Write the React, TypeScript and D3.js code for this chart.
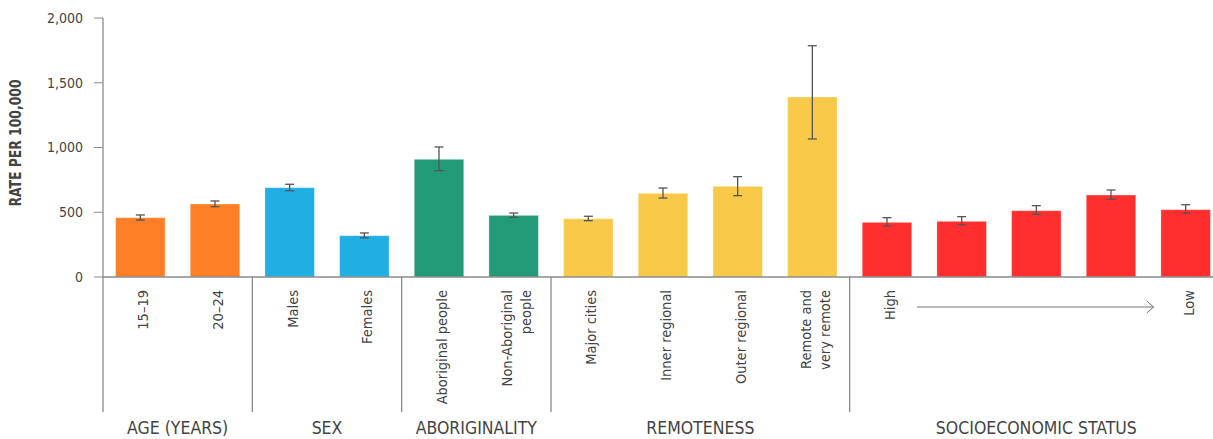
import React from "react";
import * as d3 from "d3";

// Rates per 100,000 by population group
const categories = [
  "15–19", "20–24",
  "Males", "Females",
  "Aboriginal people", "Non-Aboriginal people",
  "Major cities", "Inner regional", "Outer regional", "Remote and very remote",
  "SES 1", "SES 2", "SES 3", "SES 4", "SES 5",
];
// Tick label lines under each bar (empty = no label)
const categoryLabels: string[][] = [
  ["15–19"], ["20–24"],
  ["Males"], ["Females"],
  ["Aboriginal people"], ["Non-Aboriginal", "people"],
  ["Major cities"], ["Inner regional"], ["Outer regional"], ["Remote and", "very remote"],
  ["High"], [], [], [], ["Low"],
];
const rates = [458, 564, 690, 319, 909, 476, 450, 646, 700, 1390, 422, 430, 512, 633, 520];
const lowerCI = [440, 543, 666, 303, 821, 461, 435, 610, 628, 1066, 394, 404, 484, 600, 492];
const upperCI = [479, 587, 716, 340, 1004, 494, 469, 687, 775, 1786, 458, 466, 551, 672, 558];

const groupNames = ["AGE (YEARS)", "SEX", "ABORIGINALITY", "REMOTENESS", "SOCIOECONOMIC STATUS"];
const groupSizes = [2, 2, 2, 4, 5];
const groupColors = ["#FE7F26", "#21AEE3", "#229A78", "#F8C948", "#FF2F2F"];

const yTicks = [0, 500, 1000, 1500, 2000];

const W = 1213;
const H = 439;
const FONT = "'Liberation Sans Narrow', 'DejaVu Sans Condensed', 'Roboto', sans-serif";
const TEXT = "#444";
const AXIS = "#8a8a8a";

export default function App() {
  const x0 = 103;
  const xEnd = 1223; // the last band runs past the right edge
  const x = d3
    .scaleBand<string>()
    .domain(categories)
    .range([x0, xEnd])
    .paddingInner(0.337)
    .paddingOuter(0.1685);
  const y = d3.scaleLinear().domain([0, 2000]).range([277, 18]);
  const step = x.step();
  const fmt = d3.format(",");

  // group index for each bar, and group boundaries
  const groupOf: number[] = [];
  groupSizes.forEach((n, g) => {
    for (let i = 0; i < n; i++) groupOf.push(g);
  });
  const bounds: number[] = [x0];
  let acc = 0;
  groupSizes.forEach((n) => {
    acc += n;
    bounds.push(x0 + acc * step);
  });

  const baseY = y(0);
  const sepBottom = 412;
  const capHalf = 4.5;

  const sesStart = categories.length - groupSizes[4];
  const arrowY = 307;
  const arrowX1 = (x(categories[sesStart]) ?? 0) + x.bandwidth() / 2 + 30;
  const arrowX2 = (x(categories[categories.length - 1]) ?? 0) + x.bandwidth() / 2 - 32;

  return (
    <svg
      width={W}
      height={H}
      style={{ position: "absolute", left: 0, top: 0, background: "#fff" }}
      fontFamily={FONT}
    >
      {/* y axis title */}
      <text
        transform={`translate(21,143) rotate(-90)`}
        textAnchor="middle"
        fontSize={16}
        fontWeight="bold"
        fill={TEXT}
        textLength={127}
        lengthAdjust="spacingAndGlyphs"
      >
        RATE PER 100,000
      </text>

      {/* y ticks */}
      {yTicks.map((t) => (
        <g key={t}>
          <line x1={94} x2={x0} y1={y(t)} y2={y(t)} stroke={AXIS} strokeWidth={1} />
          <text x={83} y={y(t)} dy="0.35em" textAnchor="end" fontSize={14} fill={TEXT}>
            {fmt(t)}
          </text>
        </g>
      ))}

      {/* bars */}
      {categories.map((c, i) => (
        <rect
          key={c}
          x={x(c)}
          y={y(rates[i])}
          width={x.bandwidth()}
          height={baseY - y(rates[i])}
          fill={groupColors[groupOf[i]]}
          stroke="#fff"
          strokeOpacity={0.35}
          strokeWidth={1}
        />
      ))}

      {/* confidence intervals */}
      {categories.map((c, i) => {
        const cx = (x(c) ?? 0) + x.bandwidth() / 2;
        return (
          <g key={c} stroke="#555" strokeWidth={1.3}>
            <line x1={cx} x2={cx} y1={y(upperCI[i])} y2={y(lowerCI[i])} />
            <line x1={cx - capHalf} x2={cx + capHalf} y1={y(upperCI[i])} y2={y(upperCI[i])} />
            <line x1={cx - capHalf} x2={cx + capHalf} y1={y(lowerCI[i])} y2={y(lowerCI[i])} />
          </g>
        );
      })}

      {/* axis lines */}
      <line x1={x0} x2={x0} y1={y(2000)} y2={sepBottom} stroke={AXIS} strokeWidth={1.3} />
      <line x1={x0} x2={W} y1={baseY} y2={baseY} stroke={AXIS} strokeWidth={1.3} />
      {bounds.slice(1, -1).map((b, i) => (
        <line key={i} x1={b} x2={b} y1={baseY} y2={sepBottom} stroke={AXIS} strokeWidth={1.3} />
      ))}

      {/* category labels */}
      {categories.map((c, i) => {
        const lines = categoryLabels[i];
        const cx = (x(c) ?? 0) + x.bandwidth() / 2 + 3;
        return lines.map((ln, j) => {
          const lx = cx + (j - (lines.length - 1) / 2) * 18.5;
          return (
            <text
              key={`${c}-${j}`}
              transform={`translate(${lx},290) rotate(-90)`}
              textAnchor="end"
              dy="0.35em"
              fontSize={14.5}
              fill={TEXT}
            >
              {ln}
            </text>
          );
        });
      })}

      {/* socioeconomic gradient arrow */}
      <line x1={arrowX1} x2={arrowX2} y1={arrowY} y2={arrowY} stroke="#777" strokeWidth={1} />
      <path
        d={`M${arrowX2 - 7},${arrowY - 6} L${arrowX2},${arrowY} L${arrowX2 - 7},${arrowY + 6}`}
        fill="none"
        stroke="#777"
        strokeWidth={1}
      />

      {/* group labels */}
      {groupNames.map((g, i) => (
        <text
          key={g}
          x={(bounds[i] + bounds[i + 1]) / 2}
          y={434}
          textAnchor="middle"
          fontSize={17.5}
          fill={TEXT}
        >
          {g}
        </text>
      ))}
    </svg>
  );
}
